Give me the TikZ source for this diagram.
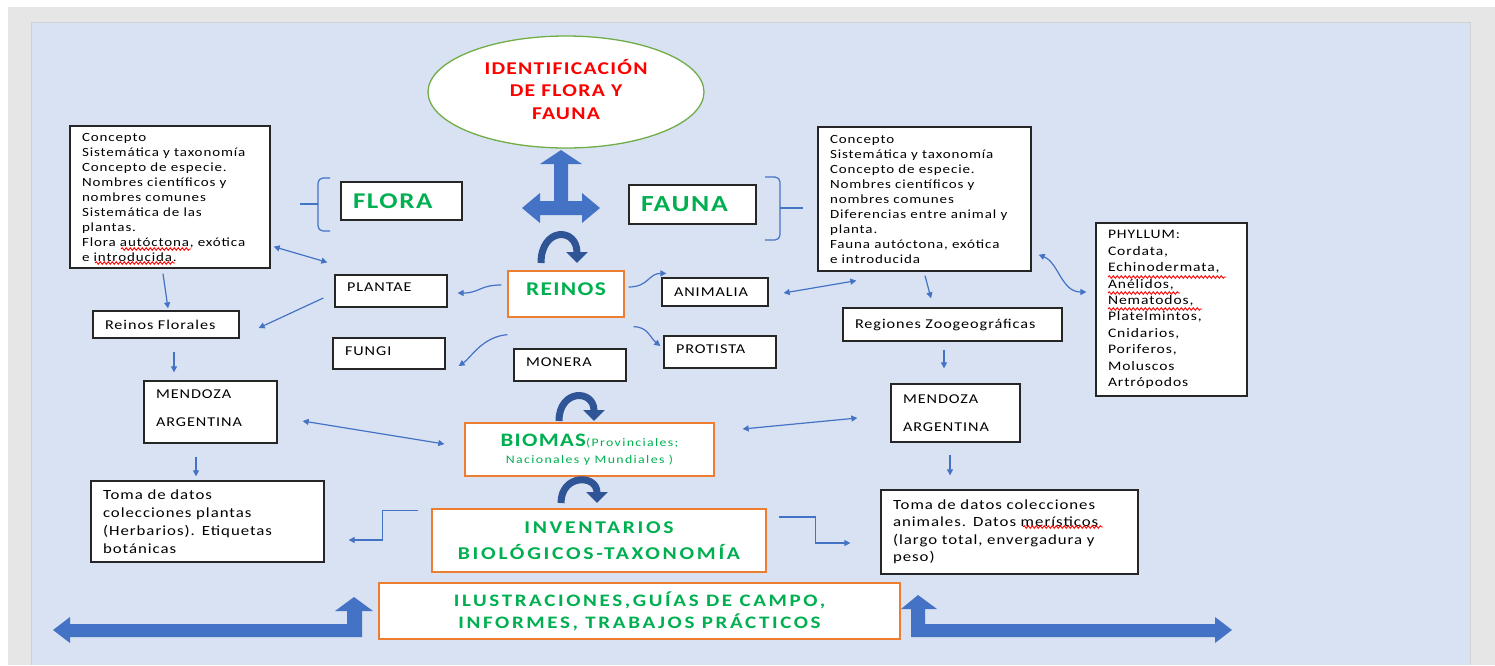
\documentclass[tikz,border=0pt]{standalone}
\usepackage{fontspec}
\setmainfont{Carlito}[FakeStretch=1.2, LetterSpace=7]
\newfontfamily\loosefont{Carlito}[FakeStretch=1.2, LetterSpace=12]
\newfontfamily\widefont{Carlito}[FakeStretch=1.2, LetterSpace=15]
\usetikzlibrary{shapes.geometric,arrows.meta,positioning,decorations.pathmorphing}

\definecolor{pageblue}{HTML}{D9E2F3}
\definecolor{framegray}{HTML}{E6E6E6}
\definecolor{linkblue}{HTML}{4472C4}
\definecolor{deepblue}{HTML}{2F5597}
\definecolor{titlegreen}{HTML}{00B050}
\definecolor{edgeorange}{HTML}{ED7D31}
\definecolor{ovalgreen}{HTML}{70AD47}

\begin{document}
\begin{tikzpicture}[x=1pt, y=-1pt,
    box/.style={draw=black!85, fill=white, line width=1.3pt, align=left, inner xsep=12pt, inner ysep=2pt, font=\fontsize{13.5}{15}\selectfont},
    infobox/.style={box, font=\fontsize{12.5}{15}\selectfont},
    obox/.style={draw=edgeorange, fill=white, line width=1.3pt, align=center, inner sep=2pt, text=titlegreen},
    link/.style={draw=linkblue, line width=1.2pt, -{Triangle[length=6pt,width=6pt]}},
    twolink/.style={link, {Triangle[length=6pt,width=6pt]}-{Triangle[length=6pt,width=6pt]}},
    brace/.style={draw=linkblue, line width=1.2pt, rounded corners=5pt},
    turn/.style={draw=deepblue, line width=7pt, -{Triangle[length=11pt,width=21pt]}},
    bigarrow/.style={fill=linkblue},
    spell/.style={draw=red, line width=0.9pt, decorate, decoration={snake, amplitude=1.3pt, segment length=4pt}}
]
    \useasboundingbox (0,0) rectangle (1495,665);

    % page
    \fill[white] (0,0) rectangle (1495,665);
    \fill[framegray] (8,7) rectangle (1495,665);
    \fill[pageblue] (31,22) rectangle (1470,665);
    \draw[black!18, line width=1pt] (31,665) -- (31,22) -- (1470,22) -- (1470,665);

    % title
    \node[ellipse, draw=ovalgreen, line width=1.3pt, fill=white, minimum width=276pt, minimum height=112pt, inner sep=0pt, align=center, text=red, text depth=6pt, font=\bfseries\fontsize{18}{22.5}\selectfont] (ident) at (566,92) {IDENTIFICACIÓN\\DE FLORA Y\\FAUNA};

    % flora side
    \node[infobox, text width=176pt, minimum height=142pt] (floraInfo) at (170,197) {Concepto\\Sistemática y taxonomía\\Concepto de especie.\\Nombres científicos y\\nombres comunes\\Sistemática de las\\plantas.\\Flora autóctona, exótica\\e introducida.};
    \node[box, text width=97pt, minimum height=38pt, text=titlegreen, font=\bfseries\fontsize{22.5}{24}\selectfont] (flora) at (401.5,201) {FLORA};
    \node[box, text width=122pt, minimum height=27pt] (reinosF) at (166,324.5) {Reinos Florales};
    \node[box, text width=88pt, minimum height=32pt, text depth=8pt] (plantae) at (391,291) {PLANTAE};
    \node[box, text width=88pt, minimum height=31pt, text depth=5pt] (fungi) at (389,353.5) {FUNGI};
    \node[box, text width=109pt, minimum height=62pt, text depth=36pt, font=\fontsize{13.5}{28}\selectfont] (mendozaL) at (210.5,412) {MENDOZA\\ARGENTINA};
    \node[box, text width=209pt, minimum height=81pt, font=\fontsize{14}{18}\selectfont] (tomaL) at (207.5,521.5) {Toma de datos\\colecciones plantas\\(Herbarios). Etiquetas\\botánicas};

    % fauna side
    \node[box, text width=103pt, minimum height=39pt, text=titlegreen, font=\bfseries\fontsize{23}{24}\selectfont] (fauna) at (692.5,204.5) {FAUNA};
    \node[infobox, text width=189pt, minimum height=144pt] (faunaInfo) at (924.5,199) {Concepto\\Sistemática y taxonomía\\Concepto de especie.\\Nombres científicos y\\nombres comunes\\Diferencias entre animal y\\planta.\\Fauna autóctona, exótica\\e introducida};
    \node[box, text width=127pt, minimum height=173pt, font=\fontsize{13}{16.4}\selectfont] (phyllum) at (1171.5,309.5) {PHYLLUM:\\Cordata,\\Echinodermata,\\Anélidos,\\Nematodos,\\Platelmintos,\\Cnidarios,\\Poriferos,\\Moluscos\\Artrópodos};
    \node[box, text width=82pt, minimum height=28pt] (animalia) at (715,292) {ANIMALIA};
    \node[box, text width=88pt, minimum height=32pt, text depth=6pt] (protista) at (720,352) {PROTISTA};
    \node[box, text width=195pt, minimum height=33pt] (regiones) at (952.5,324.5) {Regiones Zoogeográficas};
    \node[box, text width=105pt, minimum height=58pt, font=\fontsize{13.5}{28}\selectfont] (mendozaR) at (955.5,413) {MENDOZA\\ARGENTINA};
    \node[box, text width=233pt, minimum height=84pt, font=\fontsize{14}{17.5}\selectfont] (tomaR) at (1009.5,532) {Toma de datos colecciones\\animales. Datos merísticos\\(largo total, envergadura y\\peso)};

    % centre column
    \node[obox, minimum width=116pt, minimum height=46pt, text depth=10pt, font=\bfseries\fontsize{19.5}{22}\selectfont] (reinos) at (566,294) {REINOS};
    \node[box, text width=88pt, minimum height=32pt, text depth=6pt] (monera) at (570,365) {MONERA};
    \node[obox, minimum width=249pt, minimum height=53pt, font=\loosefont\fontsize{11.5}{17}\selectfont] (biomas) at (589.5,449.5) {{\rmfamily\bfseries\fontsize{19}{17}\selectfont BIOMAS}(Provinciales;\\Nacionales y Mundiales )};
    \node[obox, minimum width=334pt, minimum height=63pt, font=\widefont\bfseries\fontsize{18}{26}\selectfont] (inventarios) at (599,540.5) {INVENTARIOS\\BIOLÓGICOS-TAXONOMÍA};
    \node[obox, minimum width=521pt, minimum height=56pt, font=\widefont\bfseries\fontsize{17.5}{22}\selectfont] (ilustr) at (639.5,611) {ILUSTRACIONES,GUÍAS DE CAMPO,\\INFORMES, TRABAJOS PRÁCTICOS};

    % spelling marks
    \draw[spell] (121,249) -- (191,249);
    \draw[spell] (95,263) -- (175,263);
    \draw[spell] (1108,277) -- (1226,277);
    \draw[spell] (1108,293) -- (1180,293);
    \draw[spell] (1108,309) -- (1202,309);
    \draw[spell] (1023,527) -- (1103,527);

    % brackets
    \draw[brace] (330,178) -- (318,178) -- (318,231) -- (330,231);
    \draw[brace] (318,204) -- (300,204);
    \draw[brace] (765,177) -- (780,177) -- (780,240) -- (765,240);
    \draw[brace] (780,208) -- (803,208);

    % block arrows
    \fill[bigarrow] (561,150) -- (582,164) -- (568,164) -- (568,201) -- (582,201) -- (582,193) -- (600,208) -- (582,223) -- (582,215) -- (540,215) -- (540,223) -- (522,208) -- (540,193) -- (540,201) -- (554,201) -- (554,164) -- (540,164) -- cycle;
    \fill[bigarrow] (53,630) -- (70,617) -- (70,624) -- (347,624) -- (347,611) -- (335,611) -- (354,597) -- (373,611) -- (362,611) -- (362,637) -- (70,637) -- (70,643) -- cycle;
    \fill[bigarrow] (1232,630) -- (1215,617) -- (1215,624) -- (925,624) -- (925,609) -- (937,609) -- (918,595) -- (901,609) -- (911,609) -- (911,637) -- (1215,637) -- (1215,643) -- cycle;
    \draw[turn] (541,263) .. controls (541,227) and (577,227) .. (577,263);
    \draw[turn] (559,421) .. controls (559,389) and (594,389) .. (594,421);
    \draw[turn] (561,503) .. controls (561,474) and (597,474) .. (597,503);

    % links
    \draw[link] ([shift={(-7,5)}]floraInfo.south) -- ([shift={(2,-2)}]reinosF.north);
    \draw[twolink] ([shift={(3,-22)}]floraInfo.south east) -- ([shift={(-7,-12)}]plantae.north west);
    \draw[link] ([shift={(-11,7)}]plantae.west) -- ([shift={(19,3.5)}]reinosF.east);
    \draw[link] ([shift={(-6,-9)}]reinos.west) .. controls +(-22,0) and +(22,0) .. ([shift={(10,2)}]plantae.east);
    \draw[link] ([shift={(0,17)}]reinos.south west) .. controls +(-25,2) and +(12,-8) .. ([shift={(13,12.5)}]fungi.east);
    \draw[link] ([shift={(4,-7)}]reinos.east) .. controls +(20,0) and +(-18,0) .. ([shift={(5,-4)}]animalia.north west);
    \draw[link] ([shift={(9,9)}]reinos.south east) .. controls +(14,0) and +(-10,-8) .. ([shift={(-3,-6)}]protista.west);
    \draw[twolink] ([shift={(15,1)}]animalia.east) -- ([shift={(39,9)}]faunaInfo.south west);
    \draw[link] ([shift={(0.5,4)}]faunaInfo.south) -- ([shift={(-21.5,-9)}]regiones.north);
    \draw[twolink] ([shift={(7,-17)}]faunaInfo.south east) .. controls +(20,8) and +(-25,0) .. ([shift={(-9,-17.5)}]phyllum.west);
    \draw[link] ([shift={(-8.5,8)}]regiones.south) -- ([shift={(-11.5,-15)}]mendozaR.north);
    \draw[link] ([shift={(8,13)}]reinosF.south) -- ([shift={(-36.5,-8)}]mendozaL.north);
    \draw[twolink] ([shift={(25,9)}]mendozaL.east) -- ([shift={(-20,-5.5)}]biomas.west);
    \draw[twolink] ([shift={(28,-20.5)}]biomas.east) -- ([shift={(-33,5)}]mendozaR.west);
    \draw[link] ([shift={(-14.5,13)}]mendozaL.south) -- ([shift={(-11.5,-4)}]tomaL.north);
    \draw[link] ([shift={(-5.5,12)}]mendozaR.south) -- ([shift={(-59.5,-14)}]tomaR.north);
    \draw[link] ([shift={(-13,2)}]inventarios.north west) -- ++(-36,0) |- ([shift={(24,18.5)}]tomaL.east);
    \draw[link] ([shift={(12,-23.5)}]inventarios.east) -- ++(37,0) |- ([shift={(-30,11)}]tomaR.west);
\end{tikzpicture}
\end{document}
